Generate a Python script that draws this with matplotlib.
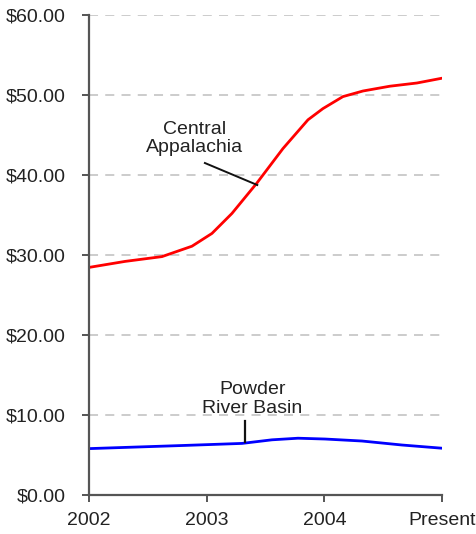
import matplotlib
matplotlib.use("Agg")
import matplotlib.pyplot as plt

plt.rcParams["font.family"] = ["Liberation Sans", "DejaVu Sans"]

# Period positions (0 = 2002 ... 3 = present) and tick labels
x_ticks = [0, 1, 2, 3]
x_labels = ["2002", "2003", "2004", "Present"]
y_ticks = [0, 10, 20, 30, 40, 50, 60]

# Central Appalachia coal price ($/ton)
ca_x = [0.0, 0.306, 0.62, 0.875, 1.045, 1.215, 1.427, 1.648, 1.861, 1.988,
        2.158, 2.328, 2.557, 2.787, 3.0]
ca_y = [28.45, 29.2, 29.8, 31.1, 32.7, 35.2, 39.0, 43.3, 46.9, 48.3,
        49.8, 50.5, 51.1, 51.5, 52.1]

# Powder River Basin coal price ($/ton)
prb_x = [0.0, 0.816, 1.30, 1.555, 1.776, 2.005, 2.32, 2.66, 3.0]
prb_y = [5.8, 6.2, 6.45, 6.9, 7.1, 7.0, 6.75, 6.25, 5.85]

fig = plt.figure(figsize=(4.77, 5.34), dpi=100)
ax = fig.add_axes([0.1866, 0.073, 0.74, 0.8989])

for v in y_ticks[1:]:
    ax.plot([0, 3], [v, v], color="#c8c8c8", lw=1.3, dashes=(5, 4), zorder=1)

ax.plot(ca_x, ca_y, color="#ff0000", lw=2.0, zorder=3,
        solid_joinstyle="round", solid_capstyle="round")
ax.plot(prb_x, prb_y, color="#0000ff", lw=2.0, zorder=3,
        solid_joinstyle="round", solid_capstyle="round")

# Series labels with leader lines
ax.text(0.90, 44.6, "Central\nAppalachia", ha="center", va="center",
        fontsize=14, color="#222222", linespacing=1.1)
ax.plot([0.985, 1.43], [41.5, 38.75], color="#111111", lw=1.4, zorder=4)

ax.text(1.39, 12.0, "Powder\nRiver Basin", ha="center", va="center",
        fontsize=14, color="#222222", linespacing=1.12)
ax.plot([1.325, 1.325], [9.25, 6.6], color="#111111", lw=1.6, zorder=4)

ax.set_xlim(0, 3)
ax.set_ylim(0, 60)
ax.set_xticks(x_ticks)
ax.set_xticklabels(x_labels)
ax.set_yticks(y_ticks)
ax.set_yticklabels([f"${v:.2f}" for v in y_ticks])

for side in ("top", "right"):
    ax.spines[side].set_visible(False)
for side in ("left", "bottom"):
    ax.spines[side].set_color("#555555")
    ax.spines[side].set_linewidth(1.6)
    ax.spines[side].set_zorder(5)

ax.tick_params(axis="y", direction="out", length=5, width=1.4, color="#555555",
               labelsize=14, labelcolor="#222222", pad=12)
ax.tick_params(axis="x", direction="out", length=5, width=1.4, color="#555555",
               labelsize=14, labelcolor="#222222", pad=7)

fig.savefig("out.png", dpi=100)
